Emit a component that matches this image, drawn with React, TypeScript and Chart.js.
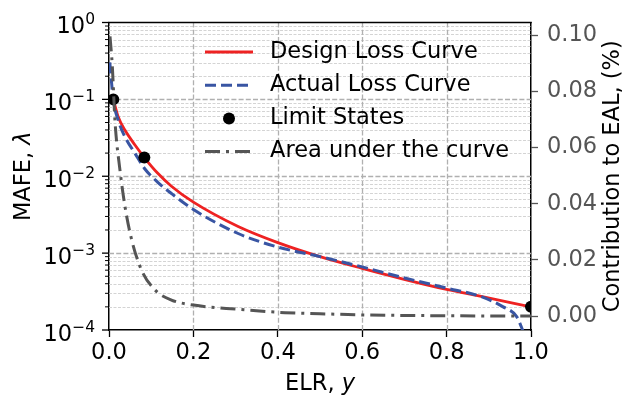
import React, { useEffect, useRef } from 'react';
import { Chart, registerables } from 'chart.js';

Chart.register(...registerables);

// ---------- data ----------
const DESIGN_X = [0.0102, 0.022, 0.038, 0.062, 0.0837, 0.115, 0.148, 0.2, 0.306, 0.4, 0.5, 0.6, 0.697, 0.8, 0.879, 1.0];
const DESIGN_Y = [0.1, 0.0589, 0.0396, 0.0253, 0.0175, 0.011, 0.00742, 0.0046, 0.00222, 0.00137, 0.0009, 0.000633, 0.00046, 0.000337, 0.000275, 0.0002];

const ACTUAL_X = [0.0019, 0.0102, 0.022, 0.038, 0.062, 0.0837, 0.115, 0.148, 0.2, 0.306, 0.4, 0.5, 0.6, 0.697, 0.8, 0.879, 0.934, 0.966, 0.98, 0.995];
const ACTUAL_Y = [0.302, 0.0985, 0.0534, 0.0324, 0.0197, 0.0127, 0.0084, 0.00596, 0.00369, 0.0018, 0.0012, 0.0009, 0.000662, 0.00048, 0.000351, 0.000275, 0.0002, 0.000149, 0.0001, 0.00006];

const LIMIT_X = [0.0102, 0.0837, 1.0];
const LIMIT_Y = [0.1, 0.0175, 0.0002];

const AREA_X = [0.0024, 0.008, 0.014, 0.026, 0.038, 0.054, 0.077, 0.109, 0.148, 0.2, 0.306, 0.417, 0.5, 0.6, 0.8, 1.0];
const AREA_V = [0.0996, 0.0887, 0.0698, 0.052, 0.0389, 0.027, 0.0164, 0.0093, 0.0057, 0.0039, 0.0024, 0.0012, 0.0008, 0.0004, 0.0001, 0.0];

const X_TICKS = [0, 0.2, 0.4, 0.6, 0.8, 1.0];
const LOG_DECADES = [1e-4, 1e-3, 1e-2, 1e-1, 1];
const RIGHT_TICKS = [0, 0.02, 0.04, 0.06, 0.08, 0.1];

const LEGEND_LABELS = ['Design Loss Curve', 'Actual Loss Curve', 'Limit States', 'Area under the curve'];

// ---------- styles ----------
const FAM = "'DejaVu Sans', sans-serif";
const RED = '#ee2222';
const BLUE = '#3955a3';
const GRAY = '#555555';
const BLUE_DASH = [11, 5];
const DASHDOT = [15, 6, 3, 6];

const LOG_TICKS: number[] = [];
for (let i = 0; i < LOG_DECADES.length - 1; i++) {
  for (let m = 1; m <= 9; m++) LOG_TICKS.push(+(m * LOG_DECADES[i]).toPrecision(3));
}
LOG_TICKS.push(LOG_DECADES[LOG_DECADES.length - 1]);

const isDecade = (v: number) => Math.abs(Math.log10(v) - Math.round(Math.log10(v))) < 1e-6;
const zip = (xs: number[], ys: number[]) => xs.map((x, i) => ({ x, y: ys[i] }));

const gridPlugin = {
  id: 'dashedGrid',
  beforeDatasetsDraw(chart: any) {
    const { ctx, chartArea: a, scales } = chart;
    ctx.save();
    ctx.lineCap = 'butt';
    for (const pass of [0, 1]) {
      for (const v of LOG_TICKS) {
        const maj = isDecade(v);
        if ((pass === 1) !== maj) continue;
        if (v === LOG_DECADES[0] || v === LOG_DECADES[LOG_DECADES.length - 1]) continue;
        const y = Math.round(scales.y.getPixelForValue(v)) + 0.5;
        ctx.strokeStyle = maj ? '#b0b0b0' : '#cfcfcf';
        ctx.lineWidth = maj ? 1.3 : 0.9;
        ctx.setLineDash(maj ? [5, 2.2] : [3, 1.5]);
        ctx.beginPath();
        ctx.moveTo(a.left, y);
        ctx.lineTo(a.right, y);
        ctx.stroke();
      }
    }
    for (const v of X_TICKS) {
      if (v === 0 || v === 1) continue;
      const x = Math.round(scales.x.getPixelForValue(v)) + 0.5;
      ctx.strokeStyle = '#b0b0b0';
      ctx.lineWidth = 1.3;
      ctx.setLineDash([5, 2.2]);
      ctx.beginPath();
      ctx.moveTo(x, a.bottom);
      ctx.lineTo(x, a.top);
      ctx.stroke();
    }
    ctx.restore();
  },
};

const decor = {
  id: 'decor',
  afterDraw(chart: any) {
    const { ctx, chartArea: a, scales } = chart;
    const yS = scales.y;
    ctx.save();
    ctx.strokeStyle = '#000';
    ctx.lineWidth = 1.5;
    ctx.beginPath();
    ctx.moveTo(a.left - 0.75, a.top);
    ctx.lineTo(a.right + 0.75, a.top);
    ctx.stroke();

    for (const v of LOG_TICKS) {
      const y = yS.getPixelForValue(v);
      const maj = isDecade(v);
      ctx.lineWidth = maj ? 1.3 : 1.0;
      const len = maj ? 7 : 4;
      ctx.beginPath();
      ctx.moveTo(a.left - len, y);
      ctx.lineTo(a.left, y);
      ctx.stroke();
    }

    ctx.fillStyle = '#000';
    ctx.textAlign = 'left';
    ctx.textBaseline = 'alphabetic';
    for (const v of LOG_DECADES) {
      const y = yS.getPixelForValue(v);
      const e = Math.round(Math.log10(v));
      const exp = e === 0 ? '0' : '\u2212' + Math.abs(e);
      ctx.font = `15.5px ${FAM}`;
      const we = ctx.measureText(exp).width;
      ctx.font = `22.5px ${FAM}`;
      const wb = ctx.measureText('10').width;
      const right = a.left - 14;
      ctx.fillText('10', right - we - wb, y + 10.5);
      ctx.font = `15.5px ${FAM}`;
      ctx.fillText(exp, right - we, y + 1.5);
    }

    const drawMixed = (parts: [string, boolean][], cx: number, cy: number, rot: number) => {
      ctx.save();
      ctx.translate(cx, cy);
      ctx.rotate(rot);
      let total = 0;
      const widths = parts.map(([t, it]) => {
        ctx.font = `${it ? 'italic ' : ''}22.5px ${FAM}`;
        const w = ctx.measureText(t).width;
        total += w;
        return w;
      });
      let x = -total / 2;
      ctx.textAlign = 'left';
      ctx.textBaseline = 'alphabetic';
      parts.forEach(([t, it], i) => {
        ctx.font = `${it ? 'italic ' : ''}22.5px ${FAM}`;
        ctx.fillText(t, x, 0);
        x += widths[i];
      });
      ctx.restore();
    };
    const midY = (a.top + a.bottom) / 2;
    drawMixed([['ELR, ', false], ['y', true]], (a.left + a.right) / 2, 390, 0);
    drawMixed([['MAFE, ', false], ['\u03bb', true]], 30, midY, -Math.PI / 2);
    drawMixed([['Contribution to EAL, (%)', false]], 619, midY, -Math.PI / 2);

    const lx = a.left + 96;
    const rowY = (i: number) => a.top + 29.5 + i * 33.2;
    ctx.lineCap = 'butt';
    ctx.setLineDash([]);
    ctx.strokeStyle = RED;
    ctx.lineWidth = 2.8;
    ctx.beginPath(); ctx.moveTo(lx, rowY(0)); ctx.lineTo(lx + 48, rowY(0)); ctx.stroke();
    ctx.setLineDash(BLUE_DASH);
    ctx.strokeStyle = BLUE;
    ctx.lineWidth = 3;
    ctx.beginPath(); ctx.moveTo(lx, rowY(1)); ctx.lineTo(lx + 48, rowY(1)); ctx.stroke();
    ctx.setLineDash([]);
    ctx.fillStyle = '#000';
    ctx.beginPath(); ctx.arc(lx + 24, rowY(2), 6, 0, Math.PI * 2); ctx.fill();
    ctx.setLineDash(DASHDOT);
    ctx.strokeStyle = GRAY;
    ctx.lineWidth = 3;
    ctx.beginPath(); ctx.moveTo(lx, rowY(3)); ctx.lineTo(lx + 48, rowY(3)); ctx.stroke();
    ctx.setLineDash([]);

    ctx.fillStyle = '#000';
    ctx.font = `22.5px ${FAM}`;
    ctx.textAlign = 'left';
    ctx.textBaseline = 'middle';
    LEGEND_LABELS.forEach((t, i) => ctx.fillText(t, lx + 65, rowY(i)));
    ctx.restore();
  },
};

export default function App() {
  const ref = useRef<HTMLCanvasElement>(null);
  useEffect(() => {
    const canvas = ref.current!;
    Chart.defaults.font.family = FAM;
    const chart = new Chart(canvas, {
      type: 'line',
      data: {
        datasets: [
          {
            label: 'Area under the curve',
            data: zip(AREA_X, AREA_V),
            yAxisID: 'y2',
            borderColor: GRAY,
            borderWidth: 3,
            borderDash: DASHDOT,
            pointRadius: 0,
            cubicInterpolationMode: 'monotone',
            clip: 0,
            order: 0,
          },
          {
            label: 'Limit States',
            data: zip(LIMIT_X, LIMIT_Y),
            yAxisID: 'y',
            showLine: false,
            pointRadius: 6,
            pointBackgroundColor: '#000',
            pointBorderWidth: 0,
            pointHoverRadius: 6,
            clip: 0,
            order: 1,
          },
          {
            label: 'Actual Loss Curve',
            data: zip(ACTUAL_X, ACTUAL_Y),
            yAxisID: 'y',
            borderColor: BLUE,
            borderWidth: 3,
            borderDash: BLUE_DASH,
            pointRadius: 0,
            cubicInterpolationMode: 'monotone',
            clip: 0,
            order: 2,
          },
          {
            label: 'Design Loss Curve',
            data: zip(DESIGN_X, DESIGN_Y),
            yAxisID: 'y',
            borderColor: RED,
            borderWidth: 2.8,
            pointRadius: 0,
            cubicInterpolationMode: 'monotone',
            clip: 0,
            order: 3,
          },
        ] as any,
      },
      options: {
        animation: false,
        responsive: false,
        devicePixelRatio: 1,
        events: [],
        layout: { padding: { top: 22, left: 0, right: 0, bottom: 0 } },
        plugins: { legend: { display: false }, tooltip: { enabled: false } },
        scales: {
          x: {
            type: 'linear',
            min: 0,
            max: 1,
            afterBuildTicks: (s: any) => { s.ticks = X_TICKS.map((v) => ({ value: v })); },
            afterFit: (s: any) => { s.height = 67; },
            ticks: {
              callback: (v: any) => Number(v).toFixed(1),
              font: { family: FAM, size: 22.5 },
              color: '#000',
              padding: 3,
              maxRotation: 0,
              autoSkip: false,
            },
            grid: { drawOnChartArea: false, drawTicks: true, tickLength: 7, tickColor: '#000', tickWidth: 1.3 },
            border: { display: true, color: '#000', width: 1.5 },
          },
          y: {
            type: 'logarithmic',
            position: 'left',
            min: 1e-4,
            max: 1,
            afterBuildTicks: (s: any) => { s.ticks = LOG_TICKS.map((v) => ({ value: v })); },
            afterFit: (s: any) => { s.width = 109; },
            ticks: { display: false, autoSkip: false },
            grid: { drawOnChartArea: false, drawTicks: false },
            border: { display: true, color: '#000', width: 1.5 },
          },
          y2: {
            type: 'linear',
            position: 'right',
            min: -0.00498,
            max: 0.10458,
            afterBuildTicks: (s: any) => { s.ticks = RIGHT_TICKS.map((v) => ({ value: v })); },
            afterFit: (s: any) => { s.width = 91; },
            ticks: {
              callback: (v: any) => Number(v).toFixed(2),
              font: { family: FAM, size: 22.5 },
              color: GRAY,
              padding: 9,
              autoSkip: false,
            },
            grid: { drawOnChartArea: false, drawTicks: true, tickLength: 7, tickColor: GRAY, tickWidth: 1.3 },
            border: { display: true, color: '#000', width: 1.5 },
          },
        },
      } as any,
      plugins: [gridPlugin, decor],
    });
    return () => chart.destroy();
  }, []);
  return (
    <div style={{ position: 'fixed', left: 0, top: 0, width: 622, height: 397, background: '#fff' }}>
      <canvas ref={ref} width={622} height={397} style={{ display: 'block', width: 622, height: 397 }} />
    </div>
  );
}
